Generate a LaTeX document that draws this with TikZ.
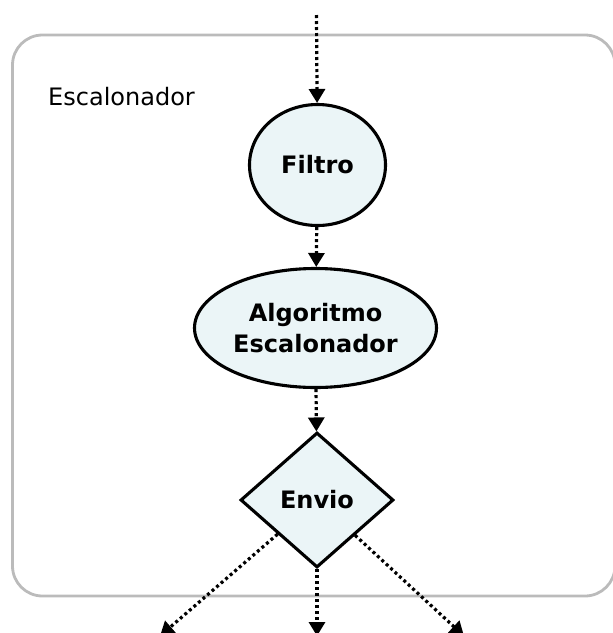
\documentclass[tikz,border=0pt]{standalone}
\usepackage{fontspec}
\setmainfont{DejaVu Sans}
\usetikzlibrary{shapes.geometric,arrows.meta}
\definecolor{nodefill}{HTML}{EBF5F7}
\definecolor{framegray}{HTML}{BBBBBB}

\begin{document}
\begin{tikzpicture}[x=1pt,y=-1pt,
        every node/.style={font=\fontsize{24}{31}\selectfont},
        etapa/.style={draw=black,line width=3.1pt,fill=nodefill,font=\fontsize{24}{31}\selectfont\bfseries,inner sep=0pt,align=center},
        fluxo/.style={line width=3.2pt,dash pattern=on 3pt off 3pt,-{Triangle[width=16pt,length=14pt]}}]
        \useasboundingbox (0,0) rectangle (613,633);
        % caixa do escalonador
        \draw [framegray,line width=2.8pt,rounded corners=30pt] (12.5,35) rectangle (615,596);
        \node [anchor=west,inner sep=0pt] (titulo) at (48,97) {Escalonador};
        % etapas
        \node [etapa,ellipse,minimum width=136pt,minimum height=121pt] (filtro) at (317.5,165) {Filtro};
        \node [etapa,ellipse,minimum width=242pt,minimum height=119pt] (algoritmo) at (315.5,328) {Algoritmo\\Escalonador};
        \node [etapa,diamond,minimum width=153pt,minimum height=135pt] (envio) at (317,500) {Envio};
        % entrada e saidas
        \coordinate (entrada) at (316.5,15);
        \coordinate (saidaE) at (160,636);
        \coordinate (saidaM) at (317,636);
        \coordinate (saidaD) at (464,636);
        \draw [fluxo] (entrada) -- (filtro);
        \draw [fluxo] (filtro) -- (algoritmo);
        \draw [fluxo] (algoritmo) -- (envio);
        \draw [fluxo] (envio) -- (saidaE);
        \draw [fluxo] (envio) -- (saidaM);
        \draw [fluxo] (envio) -- (saidaD);
\end{tikzpicture}
\end{document}
